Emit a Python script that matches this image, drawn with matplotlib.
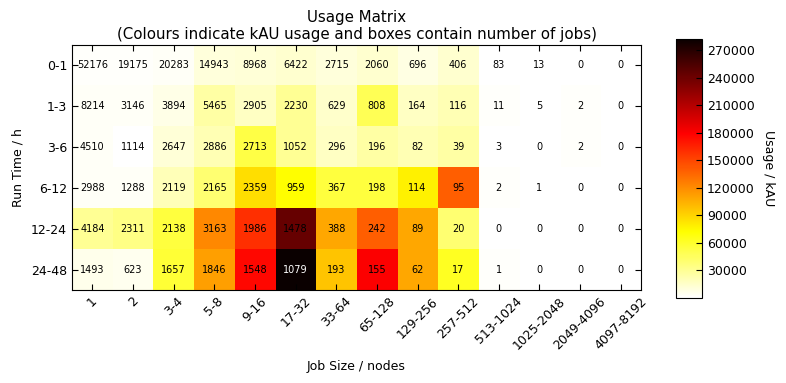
import numpy as np
import matplotlib
matplotlib.use("Agg")
import matplotlib.pyplot as plt

# -----------------------------
# DATA
# -----------------------------
job_sizes = ["1", "2", "3-4", "5-8", "9-16", "17-32", "33-64", "65-128",
             "129-256", "257-512", "513-1024", "1025-2048", "2049-4096", "4097-8192"]
run_times = ["0-1", "1-3", "3-6", "6-12", "12-24", "24-48"]

# number of jobs (text in boxes)
jobs_0_1 = [52176, 19175, 20283, 14943, 8968, 6422, 2715, 2060, 696, 406, 83, 13, 0, 0]
jobs_1_3 = [8214, 3146, 3894, 5465, 2905, 2230, 629, 808, 164, 116, 11, 5, 2, 0]
jobs_3_6 = [4510, 1114, 2647, 2886, 2713, 1052, 296, 196, 82, 39, 3, 0, 2, 0]
jobs_6_12 = [2988, 1288, 2119, 2165, 2359, 959, 367, 198, 114, 95, 2, 1, 0, 0]
jobs_12_24 = [4184, 2311, 2138, 3163, 1986, 1478, 388, 242, 89, 20, 0, 0, 0, 0]
jobs_24_48 = [1493, 623, 1657, 1846, 1548, 1079, 193, 155, 62, 17, 1, 0, 0, 0]

# usage in kAU (colours)
use_0_1 = [2000, 2000, 3000, 10000, 12000, 14000, 10000, 14000, 8000, 14000, 200, 0, 0, 0]
use_1_3 = [3000, 3000, 7000, 26000, 17000, 30000, 15000, 48000, 17000, 22000, 2000, 1000, 1500, 0]
use_3_6 = [3000, 1000, 12000, 22000, 52000, 30000, 17000, 26000, 22000, 26000, 300, 0, 2000, 0]
use_6_12 = [3000, 3000, 20000, 40000, 85000, 72000, 55000, 55000, 78000, 139000, 2000, 200, 0, 0]
use_12_24 = [30000, 35000, 55000, 122000, 159000, 243000, 108000, 139000, 108000, 40000, 0, 0, 0, 0]
use_24_48 = [6000, 5000, 57000, 112000, 176000, 282000, 96000, 180000, 108000, 62000, 2000, 0, 0, 0]

jobs = np.array([jobs_0_1, jobs_1_3, jobs_3_6, jobs_6_12, jobs_12_24, jobs_24_48])
usage = np.array([use_0_1, use_1_3, use_3_6, use_6_12, use_12_24, use_24_48])

# -----------------------------
# PLOT
# -----------------------------
fig = plt.figure(figsize=(7.86, 3.83), dpi=100)
ax = fig.add_axes([0.0916, 0.243, 0.724, 0.640])
cax = fig.add_axes([0.860, 0.222, 0.033, 0.676])

vmax = usage.max()
im = ax.imshow(usage, cmap="hot_r", vmin=0, vmax=vmax, aspect="auto",
               interpolation="nearest")

for i in range(len(run_times)):
    for j in range(len(job_sizes)):
        col = "white" if usage[i, j] > 0.9 * vmax else "black"
        ax.text(j, i, str(jobs[i, j]), ha="center", va="center",
                fontsize=7, color=col)

ax.set_xticks(range(len(job_sizes)))
ax.set_xticklabels(job_sizes, rotation=45, fontsize=9)
ax.set_yticks(range(len(run_times)))
ax.set_yticklabels(run_times, fontsize=9)
ax.tick_params(direction="in", top=True, right=True, length=4)
ax.set_xlabel("Job Size / nodes", fontsize=9, labelpad=6)
ax.set_ylabel("Run Time / h", fontsize=9, labelpad=5)
ax.set_title("Usage Matrix\n(Colours indicate kAU usage and boxes contain number of jobs)",
             fontsize=10.8, pad=4)

cb = fig.colorbar(im, cax=cax, ticks=np.arange(30000, 270001, 30000))
cb.ax.tick_params(labelsize=9, direction="in", length=4)
cb.set_label("Usage / kAU", rotation=270, labelpad=15, fontsize=9)

plt.savefig("out.png", dpi=100)
plt.close()
